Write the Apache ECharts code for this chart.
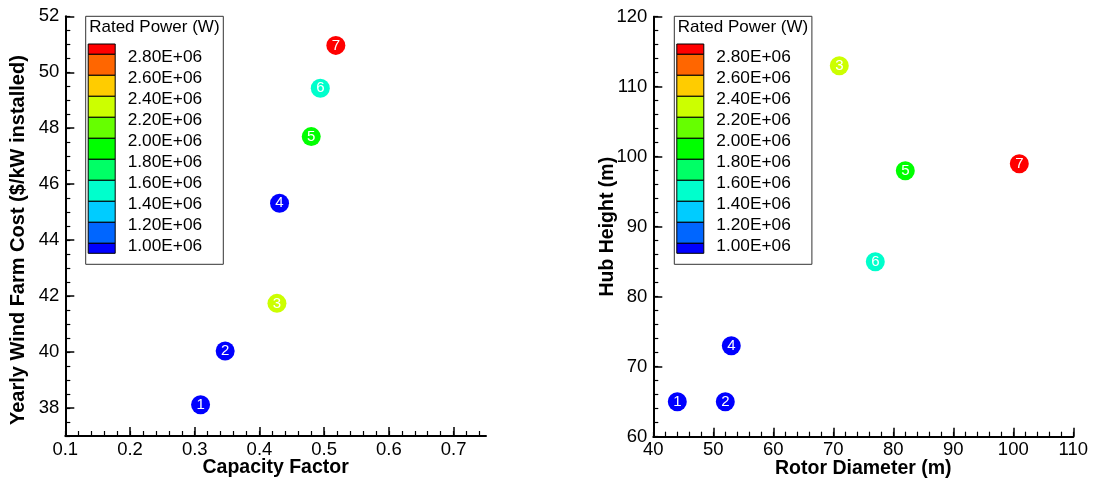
<!DOCTYPE html>
<html>
<head>
<meta charset="utf-8">
<script src="https://cdn.jsdelivr.net/npm/echarts@6/dist/echarts.min.js"></script>
<style>
html,body{margin:0;padding:0;background:#fff;}
#chart{width:1094px;height:481px;}
</style>
</head>
<body>
<div id="chart"></div>
<script>
// ---- data ----
const turbineIds = [1, 2, 3, 4, 5, 6, 7];
const capacityFactor = [0.309, 0.347, 0.427, 0.431, 0.480, 0.494, 0.518];
const farmCost = [38.12, 40.04, 41.74, 45.32, 47.70, 49.43, 50.96];
const rotorDiameter = [44, 52, 71, 53, 82, 77, 101];
const hubHeight = [65, 65, 113, 73, 98, 85, 99];
const ratedPower = [900000, 850000, 2300000, 800000, 2000000, 1500000, 3000000];

// tick labels
const cfTicks = [0.1, 0.2, 0.3, 0.4, 0.5, 0.6, 0.7];
const costTicks = [38, 40, 42, 44, 46, 48, 50, 52];
const rotorTicks = [40, 50, 60, 70, 80, 90, 100, 110];
const hubTicks = [60, 70, 80, 90, 100, 110, 120];

// contour levels (legend) and band colours (low -> high)
const powerLevels = [1.0e6, 1.2e6, 1.4e6, 1.6e6, 1.8e6, 2.0e6, 2.2e6, 2.4e6, 2.6e6, 2.8e6];
const bandColors = ['#0000ff', '#0066ff', '#00ccff', '#00ffcc', '#00ff66', '#00ff00',
                    '#66ff00', '#ccff00', '#ffcc00', '#ff6600', '#ff0000'];

// ---- helpers ----
const FONT = 'Liberation Sans, Arial, sans-serif';
function minorValues(min, max, step) {
  const out = [];
  const n = Math.round((max - min) / step);
  for (let i = 0; i <= n; i++) out.push(+(min + i * step).toFixed(6));
  return out;
}
const pieces = [];
pieces.push({ lte: powerLevels[0], color: bandColors[0] });
for (let i = 0; i < powerLevels.length - 1; i++) {
  pieces.push({ gt: powerLevels[i], lte: powerLevels[i + 1], color: bandColors[i + 1] });
}
pieces.push({ gt: powerLevels[powerLevels.length - 1], color: bandColors[bandColors.length - 1] });

function buildLegend(x0, y0) {
  const children = [];
  const W = 137.6, H = 248;
  children.push({ type: 'rect', shape: { x: x0, y: y0, width: W, height: H },
    style: { fill: '#fff', stroke: '#333', lineWidth: 1 } });
  children.push({ type: 'text', x: x0 + 3.5, y: y0 + 11,
    style: { text: 'Rated Power (W)', fill: '#000', font: '17px ' + FONT, verticalAlign: 'middle' } });
  const barX = x0 + 2.5, barW = 27, barTop = y0 + 27.7, edge = 10.3, step = 21;
  const nb = bandColors.length;
  let y = barTop;
  for (let b = 0; b < nb; b++) {
    const h = (b === 0 || b === nb - 1) ? (b === 0 ? edge : 10) : step;
    children.push({ type: 'rect', shape: { x: barX, y: y, width: barW, height: h },
      style: { fill: bandColors[nb - 1 - b], stroke: '#000', lineWidth: 1 } });
    y += h;
  }
  for (let k = 0; k < powerLevels.length; k++) {
    const lvl = powerLevels[powerLevels.length - 1 - k];
    const by = barTop + edge + k * step;
    children.push({ type: 'text', x: x0 + 42, y: by + 3,
      style: { text: (lvl / 1e6).toFixed(2) + 'E+06', fill: '#000', font: '17.3px ' + FONT, verticalAlign: 'middle' } });
  }
  return { type: 'group', children: children, z: 100 };
}

function mainAxis(gridIndex, pos, min, max, ticks, name, nameGap, decimals, nameStyle) {
  return {
    type: 'value', gridIndex: gridIndex, position: pos, min: min, max: max,
    name: name, nameLocation: 'middle', nameGap: nameGap, nameMoveOverlap: false,
    nameTextStyle: Object.assign({ color: '#000', fontWeight: 'bold', fontSize: 19.5, fontFamily: FONT }, nameStyle || {}),
    axisLine: { show: true, onZero: false, lineStyle: { color: '#000', width: 2 } },
    axisTick: { show: true, inside: true, length: 9, customValues: ticks, lineStyle: { color: '#000', width: 1.5 } },
    axisLabel: { show: true, customValues: ticks, color: '#000', fontSize: 18.5, fontFamily: FONT,
      margin: pos === 'left' ? 6 : 4,
      formatter: v => decimals ? v.toFixed(decimals) : String(v) },
    splitLine: { show: false }
  };
}
function minorAxis(gridIndex, pos, min, max, vals) {
  return {
    type: 'value', gridIndex: gridIndex, position: pos, min: min, max: max,
    axisLine: { show: false },
    axisTick: { show: true, inside: true, length: 5, customValues: vals, lineStyle: { color: '#000', width: 1.2 } },
    axisLabel: { show: false },
    splitLine: { show: false }
  };
}

const chart = echarts.init(document.getElementById('chart'), null, { renderer: 'canvas' });
const labelStyle = { show: true, position: 'inside', formatter: p => p.value[3], color: '#fff', fontSize: 15, fontFamily: FONT };

const option = {
  animation: false,
  backgroundColor: '#fff',
  grid: [
    { left: 65.3, top: 16.3, width: 420.7, height: 419.7, containLabel: false, outerBoundsMode: 'none' },
    { left: 653.3, top: 16.7, width: 420, height: 420, containLabel: false, outerBoundsMode: 'none' }
  ],
  xAxis: [
    mainAxis(0, 'bottom', 0.1, 0.75, cfTicks, 'Capacity Factor', 22, 1),
    minorAxis(0, 'bottom', 0.1, 0.75, minorValues(0.1, 0.74, 0.02)),
    mainAxis(1, 'bottom', 40, 110, rotorTicks, 'Rotor Diameter (m)', 22, 0),
    minorAxis(1, 'bottom', 40, 110, minorValues(40, 110, 2))
  ],
  yAxis: [
    mainAxis(0, 'left', 37, 52, costTicks, 'Yearly Wind Farm Cost ($/kW installed)', 37, 0,
      { fontSize: 20, padding: [0, 28, 0, 0] }),
    minorAxis(0, 'left', 37, 52, minorValues(37, 52, 0.5)),
    mainAxis(1, 'left', 60, 120, hubTicks, 'Hub Height (m)', 36, 0),
    minorAxis(1, 'left', 60, 120, minorValues(60, 120, 2))
  ],
  visualMap: {
    type: 'piecewise', show: false, dimension: 2, seriesIndex: [0, 1], pieces: pieces
  },
  series: [
    {
      type: 'scatter', xAxisIndex: 0, yAxisIndex: 0, symbol: 'circle', symbolSize: 19,
      itemStyle: { opacity: 1 },
      data: turbineIds.map((id, i) => [capacityFactor[i], farmCost[i], ratedPower[i], id]),
      label: labelStyle, z: 5
    },
    {
      type: 'scatter', xAxisIndex: 2, yAxisIndex: 2, symbol: 'circle', symbolSize: 19,
      itemStyle: { opacity: 1 },
      data: turbineIds.map((id, i) => [rotorDiameter[i], hubHeight[i], ratedPower[i], id]),
      label: labelStyle, z: 5
    }
  ],
  graphic: [buildLegend(85.7, 16.3), buildLegend(674.3, 16.3)]
};
chart.setOption(option);
</script>
</body>
</html>
